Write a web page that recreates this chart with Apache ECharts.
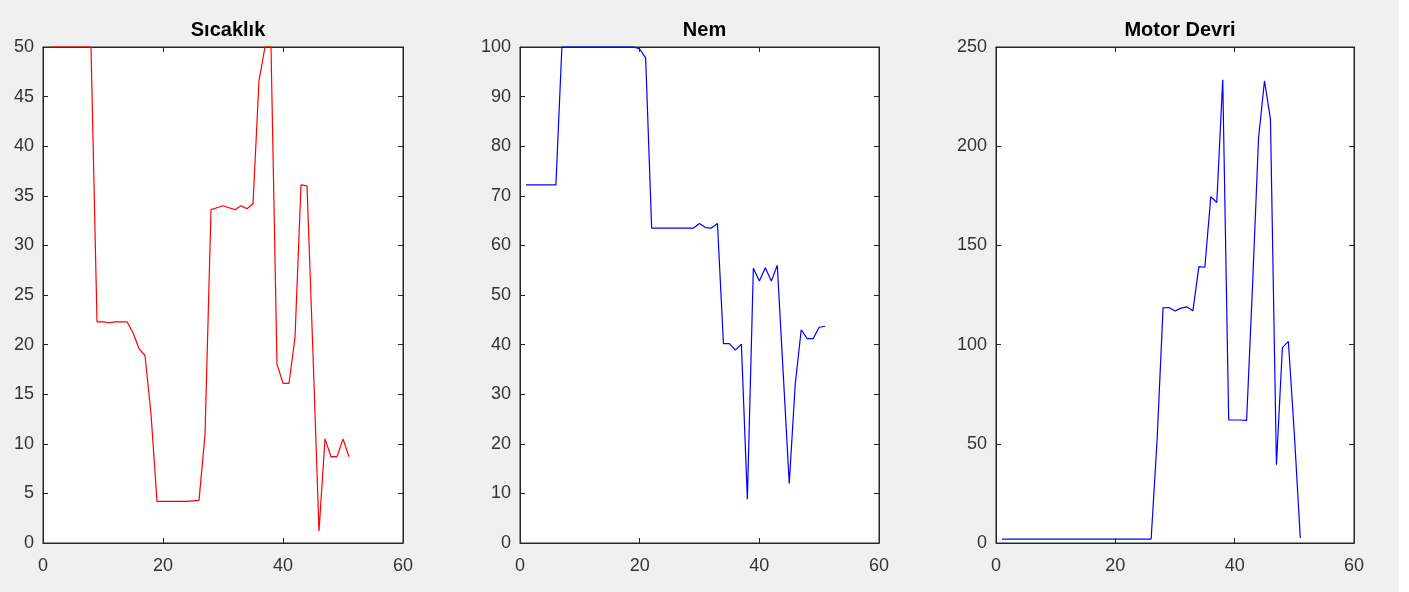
<!DOCTYPE html>
<html>
<head>
<meta charset="utf-8">
<script src="https://cdn.jsdelivr.net/npm/echarts@6/dist/echarts.min.js"></script>
<style>
html,body{margin:0;padding:0;background:#ffffff;}
#chart{width:1399px;height:592px;background:#f0f0f0;}
</style>
</head>
<body>
<div id="chart"></div>
<script>
// ---- data ----
const titles = ['Sıcaklık', 'Nem', 'Motor Devri'];
const sampleIndex = [1,2,3,4,5,6,7,8,9,10,11,12,13,14,15,16,17,18,19,20,21,22,23,24,25,26,27,28,29,30,31,32,33,34,35,36,37,38,39,40,41,42,43,44,45,46,47,48,49,50,51];
const sicaklik = [50,50,50,50,50,50,50,50,22.3,22.3,22.2,22.3,22.3,22.3,21.2,19.6,18.9,13,4.2,4.2,4.2,4.2,4.2,4.2,4.25,4.3,10.9,33.6,33.8,34.0,33.8,33.6,34.0,33.7,34.2,46.6,50,50,18.0,16.1,16.1,20.7,36.1,36.0,19,1.2,10.5,8.7,8.7,10.5,8.7];
const nem = [72.2,72.2,72.2,72.2,72.2,72.2,100,100,100,100,100,100,100,100,100,100,100,100,100,99.6,97.8,63.5,63.5,63.5,63.5,63.5,63.5,63.5,63.5,64.4,63.6,63.5,64.4,40.2,40.2,38.9,40.1,8.8,55.4,52.8,55.5,52.8,56.0,34,12,32,43.0,41.2,41.2,43.5,43.7];
const motorDevri = [2,2,2,2,2,2,2,2,2,2,2,2,2,2,2,2,2,2,2,2,2,2,2,2,2,2,52,118.5,118.7,116.9,118.4,119,117,139.3,139,174.6,171.6,233.5,62,62,62,61.8,130,204,233,213.5,39.5,98.5,101.6,55,2.5];
const xTicks = {min: 0, max: 60, interval: 20};
const yTicks = [
  {min: 0, max: 50, interval: 5},
  {min: 0, max: 100, interval: 10},
  {min: 0, max: 250, interval: 50}
];
const colors = ['#ff0000', '#0000ff', '#0000ff'];
const seriesValues = [sicaklik, nem, motorDevri];

// ---- layout ----
const grids = [
  {left: 43, top: 47, width: 360, height: 496},
  {left: 520, top: 47, width: 359, height: 496},
  {left: 996, top: 47, width: 358, height: 496}
];
const axisColor = '#262626';
const labelColor = '#333333';
const font = '"Liberation Sans", Arial, Helvetica, sans-serif';

const option = {
  animation: false,
  title: [], grid: [], xAxis: [], yAxis: [], series: []
};

grids.forEach((g, i) => {
  option.grid.push(Object.assign({show: true, backgroundColor: '#ffffff', borderColor: axisColor, borderWidth: 1}, g));
  option.title.push({
    text: titles[i],
    left: g.left + g.width / 2, top: 15, textAlign: 'center',
    textStyle: {fontFamily: font, fontWeight: 'bold', fontSize: 20, color: '#000000'}
  });
  const tickStyle = {show: true, inside: true, length: 5, lineStyle: {color: axisColor, width: 1}};
  ['bottom', 'top'].forEach((pos, k) => {
    option.xAxis.push({
      type: 'value', gridIndex: i, position: pos,
      min: xTicks.min, max: xTicks.max, interval: xTicks.interval,
      axisLine: {show: true, onZero: false, lineStyle: {color: axisColor, width: 1}},
      axisTick: tickStyle,
      splitLine: {show: false},
      axisLabel: {show: k === 0, margin: 14, color: labelColor, fontSize: 18, fontFamily: font}
    });
  });
  ['left', 'right'].forEach((pos, k) => {
    option.yAxis.push({
      type: 'value', gridIndex: i, position: pos,
      min: yTicks[i].min, max: yTicks[i].max, interval: yTicks[i].interval,
      axisLine: {show: true, onZero: false, lineStyle: {color: axisColor, width: 1}},
      axisTick: tickStyle,
      splitLine: {show: false},
      axisLabel: {show: k === 0, margin: 9, color: labelColor, fontSize: 18, fontFamily: font}
    });
  });
  option.series.push({
    type: 'line',
    xAxisIndex: i * 2, yAxisIndex: i * 2,
    data: sampleIndex.map((x, j) => [x, seriesValues[i][j]]),
    showSymbol: false, symbol: 'none',
    lineStyle: {color: colors[i], width: 1.2},
    clip: false
  });
});

const chart = echarts.init(document.getElementById('chart'), null, {renderer: 'canvas'});
chart.setOption(option);
</script>
</body>
</html>
